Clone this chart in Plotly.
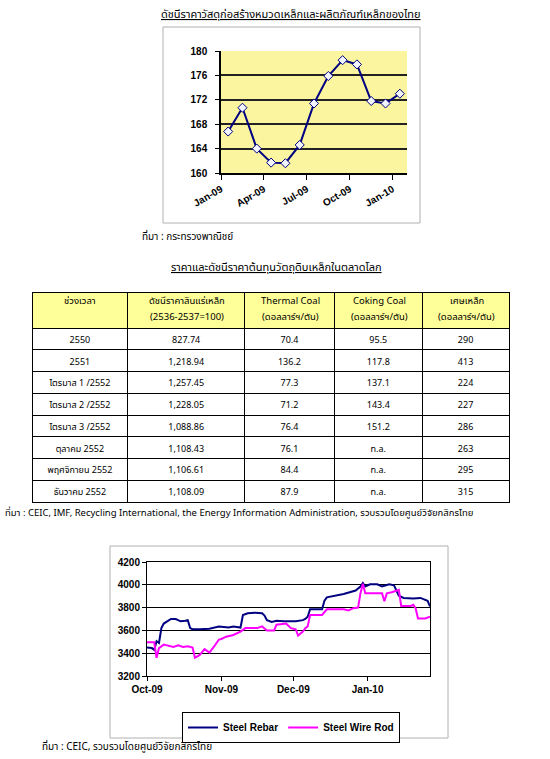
import plotly.graph_objects as go

W, H = 550, 759

# --- top chart: Thai steel construction material price index ---
idx_months = ["Jan-09", "Feb-09", "Mar-09", "Apr-09", "May-09", "Jun-09", "Jul-09",
              "Aug-09", "Sep-09", "Oct-09", "Nov-09", "Dec-09", "Jan-10"]
idx_values = [166.8, 170.7, 164.0, 161.7, 161.6, 164.6, 171.4, 175.9, 178.5, 177.8,
              171.8, 171.4, 173.0]
idx_ticktext = ["Jan-09", "Apr-09", "Jul-09", "Oct-09", "Jan-10"]

# --- table: world raw material prices ---
tbl_header_top = ["ช่วงเวลา", "ดัชนีราคาสินแร่เหล็ก", "Thermal Coal", "Coking Coal",
                  "เศษเหล็ก"]
tbl_header_sub = ["", "(2536-2537=100)", "(ดอลลาร์ฯ/ตัน)", "(ดอลลาร์ฯ/ตัน)",
                  "(ดอลลาร์ฯ/ตัน)"]
tbl_period = ["2550", "2551", "ไตรมาส 1 /2552", "ไตรมาส 2 /2552", "ไตรมาส 3 /2552",
              "ตุลาคม 2552", "พฤศจิกายน 2552", "ธันวาคม 2552"]
tbl_ore = ["827.74", "1,218.94", "1,257.45", "1,228.05", "1,088.86", "1,108.43",
           "1,106.61", "1,108.09"]
tbl_thermal = ["70.4", "136.2", "77.3", "71.2", "76.4", "76.1", "84.4", "87.9"]
tbl_coking = ["95.5", "117.8", "137.1", "143.4", "151.2", "n.a.", "n.a.", "n.a."]
tbl_scrap = ["290", "413", "224", "227", "286", "263", "295", "315"]

# --- bottom chart: steel rebar / wire rod ---
rebar_dates = [
    "2009-10-01", "2009-10-03", "2009-10-04", "2009-10-05", "2009-10-06", "2009-10-07",
    "2009-10-08", "2009-10-09", "2009-10-11", "2009-10-13", "2009-10-15", "2009-10-17",
    "2009-10-18", "2009-10-19", "2009-10-20", "2009-10-23", "2009-10-27", "2009-10-31",
    "2009-11-02", "2009-11-04", "2009-11-06", "2009-11-09", "2009-11-10", "2009-11-12",
    "2009-11-15", "2009-11-18", "2009-11-19", "2009-11-20", "2009-11-22", "2009-11-24",
    "2009-11-27", "2009-11-30", "2009-12-02", "2009-12-05", "2009-12-06", "2009-12-07",
    "2009-12-08", "2009-12-13", "2009-12-14", "2009-12-15", "2009-12-19", "2009-12-22",
    "2009-12-27", "2009-12-29", "2009-12-30", "2009-12-31", "2010-01-02", "2010-01-05",
    "2010-01-07", "2010-01-10", "2010-01-12", "2010-01-14", "2010-01-16", "2010-01-20",
    "2010-01-23", "2010-01-25", "2010-01-26", "2010-01-27"]
rebar_values = [
    3450, 3445, 3430, 3505, 3490, 3620, 3660, 3675, 3700, 3700, 3680, 3685,
    3690, 3620, 3610, 3610, 3615, 3635, 3630, 3625, 3635, 3625, 3735, 3750,
    3755, 3750, 3730, 3690, 3675, 3685, 3680, 3680, 3680, 3690, 3700, 3720,
    3785, 3785, 3860, 3890, 3905, 3920, 3950, 3985, 4015, 3985, 4005, 4005,
    3985, 4005, 3995, 3905, 3885, 3880, 3885, 3870, 3860, 3810]
wire_dates = [
    "2009-10-01", "2009-10-04", "2009-10-05", "2009-10-06", "2009-10-08", "2009-10-10",
    "2009-10-12", "2009-10-14", "2009-10-16", "2009-10-18", "2009-10-20", "2009-10-21",
    "2009-10-23", "2009-10-25", "2009-10-27", "2009-10-29", "2009-10-31", "2009-11-01",
    "2009-11-03", "2009-11-06", "2009-11-09", "2009-11-11", "2009-11-16", "2009-11-18",
    "2009-11-20", "2009-11-23", "2009-11-24", "2009-11-28", "2009-11-30", "2009-12-02",
    "2009-12-03", "2009-12-05", "2009-12-06", "2009-12-07", "2009-12-08", "2009-12-13",
    "2009-12-14", "2009-12-15", "2009-12-22", "2009-12-24", "2009-12-26", "2009-12-28",
    "2009-12-29", "2009-12-30", "2009-12-31", "2010-01-07", "2010-01-08", "2010-01-09",
    "2010-01-11", "2010-01-14", "2010-01-15", "2010-01-19", "2010-01-20", "2010-01-21",
    "2010-01-22", "2010-01-25", "2010-01-27"]
wire_values = [
    3495, 3495, 3360, 3445, 3475, 3465, 3455, 3470, 3455, 3460, 3450, 3360,
    3385, 3435, 3405, 3460, 3520, 3525, 3545, 3560, 3590, 3620, 3620, 3635,
    3600, 3600, 3650, 3660, 3620, 3610, 3555, 3590, 3620, 3635, 3735, 3735,
    3765, 3785, 3785, 3775, 3795, 3800, 3925, 4010, 3925, 3925, 3855, 3925,
    3935, 3955, 3815, 3815, 3825, 3795, 3705, 3705, 3720]


def px(x):
    return x / W


def py(y):
    return 1 - y / H


THAI = "Tahoma, 'Noto Sans Thai', 'Noto Sans', Arial, sans-serif"
ARIAL = "Arial, 'Liberation Sans', sans-serif"

# table geometry (pixels)
TBL_LEFT, TBL_TOP, TBL_HEAD_H, TBL_ROW_H = 32, 292, 36, 21.75
COL_W = [96, 117, 90, 88, 87]

fig = go.Figure()

fig.add_trace(go.Scatter(
    x=list(range(len(idx_values))), y=idx_values, mode="lines+markers",
    line=dict(color="#000080", width=2),
    marker=dict(symbol="diamond", size=7, color="#f2f4ff",
                line=dict(color="#000080", width=1)),
    showlegend=False, hovertext=idx_months, xaxis="x", yaxis="y",
))

tbl_bottom = TBL_TOP + TBL_HEAD_H + TBL_ROW_H * len(tbl_period)
fig.add_trace(go.Table(
    domain=dict(x=[px(TBL_LEFT), px(TBL_LEFT + sum(COL_W))],
                y=[py(tbl_bottom + 4), py(TBL_TOP)]),
    columnwidth=COL_W,
    # header text is laid on top as annotations (two lines, wider spacing)
    header=dict(values=[""] * len(COL_W), fill_color="#ffff99", height=TBL_HEAD_H,
                line=dict(color="black", width=1)),
    cells=dict(values=[tbl_period, tbl_ore, tbl_thermal, tbl_coking, tbl_scrap],
               fill_color="white", height=TBL_ROW_H, align="center",
               line=dict(color="black", width=1),
               font=dict(family=THAI, size=9, color="black")),
))

fig.add_trace(go.Scatter(
    x=rebar_dates, y=rebar_values, mode="lines", name="Steel Rebar",
    line=dict(color="#000080", width=2), xaxis="x2", yaxis="y2",
))
fig.add_trace(go.Scatter(
    x=wire_dates, y=wire_values, mode="lines", name="Steel Wire Rod",
    line=dict(color="#ff00ff", width=2), xaxis="x2", yaxis="y2",
))

tick_font = dict(family=ARIAL, size=10, color="black", weight="bold")

fig.update_layout(
    width=W, height=H, margin=dict(l=0, r=0, t=0, b=0, autoexpand=False),
    paper_bgcolor="white", plot_bgcolor="white",
    xaxis=dict(domain=[px(221), px(407)], range=[-0.5, 12.5],
               tickvals=[-0.5, 2.5, 5.5, 8.5, 11.5], ticktext=idx_ticktext,
               tickangle=-30, ticks="outside", ticklen=5, tickcolor="black",
               showline=True, linecolor="black", linewidth=1.5, automargin=False,
               showgrid=False, zeroline=False, tickfont=tick_font),
    yaxis=dict(domain=[py(173), py(51)], range=[160, 180], dtick=4,
               ticks="outside", ticklen=4, tickcolor="black", automargin=False,
               showline=True, linecolor="black", linewidth=1.5,
               gridcolor="#222222", gridwidth=1.5, zeroline=False,
               tickfont=tick_font, ticklabelstandoff=6),
    xaxis2=dict(domain=[px(147), px(430)], type="date",
                range=["2009-10-01", "2010-01-27"],
                tickvals=["2009-10-01", "2009-11-01", "2009-12-01", "2010-01-01"],
                tickformat="%b-%y", ticks="outside", ticklen=4, tickcolor="black",
                showline=True, mirror=True, linecolor="black", linewidth=1,
                showgrid=False, zeroline=False, tickfont=tick_font, anchor="y2",
                automargin=False),
    yaxis2=dict(domain=[py(676), py(562)], range=[3200, 4200], dtick=200,
                ticks="outside", ticklen=4, tickcolor="black",
                showline=True, mirror=True, linecolor="black", linewidth=1,
                gridcolor="black", gridwidth=1, zeroline=False,
                tickfont=tick_font, anchor="x2", automargin=False),
    legend=dict(orientation="h", x=px(182), y=py(712), xanchor="left", yanchor="top",
                bordercolor="black", borderwidth=1, bgcolor="white",
                font=dict(family=ARIAL, size=10, color="black", weight="bold"),
                itemwidth=30, tracegroupgap=0),
)

# chart frames
fig.add_shape(type="rect", xref="paper", yref="paper",
              x0=px(163), x1=px(420), y0=py(223), y1=py(27),
              line=dict(color="#b0b0b0", width=1), layer="below")
fig.add_shape(type="rect", xref="paper", yref="paper",
              x0=px(110), x1=px(448), y0=py(738), y1=py(546),
              line=dict(color="#b0b0b0", width=1), layer="below")
# top plot area fill
fig.add_shape(type="rect", xref="x domain", yref="y domain",
              x0=0, x1=1, y0=0, y1=1, fillcolor="#faf59e",
              line=dict(width=0), layer="below")

# table header labels
col_left = TBL_LEFT
for w, top, sub in zip(COL_W, tbl_header_top, tbl_header_sub):
    cx = col_left + w / 2
    for txt, y in ((top, TBL_TOP + 9), (sub, TBL_TOP + 25)):
        if txt:
            fig.add_annotation(text=txt, xref="paper", yref="paper", x=px(cx), y=py(y),
                               xanchor="center", yanchor="middle", showarrow=False,
                               font=dict(family=THAI, size=9.5, color="black"))
    col_left += w

texts = [
    ("<u>ดัชนีราคาวัสดุก่อสร้างหมวดเหล็กและผลิตภัณฑ์เหล็กของไทย</u>", 291, 15, "center", 11),
    ("ที่มา : กระทรวงพาณิชย์", 140, 237, "left", 10),
    ("<u>ราคาและดัชนีราคาต้นทุนวัตถุดิบเหล็กในตลาดโลก</u>", 276, 267, "center", 11),
    ("ที่มา : CEIC, IMF, Recycling International, the Energy Information Administration, "
     "รวบรวมโดยศูนย์วิจัยกสิกรไทย", 3, 513, "left", 9.5),
    ("ที่มา : CEIC, รวบรวมโดยศูนย์วิจัยกสิกรไทย", 40, 747, "left", 10),
]
for txt, x, y, anchor, size in texts:
    fig.add_annotation(text=txt, xref="paper", yref="paper", x=px(x), y=py(y),
                       xanchor=anchor, yanchor="middle", align=anchor, showarrow=False,
                       font=dict(family=THAI, size=size, color="black"))

# drop the page's default body margin so the figure sits at the window corner
fig.write_html("out.html", config={"displayModeBar": False},
               post_script="document.body.style.margin = '0';")
